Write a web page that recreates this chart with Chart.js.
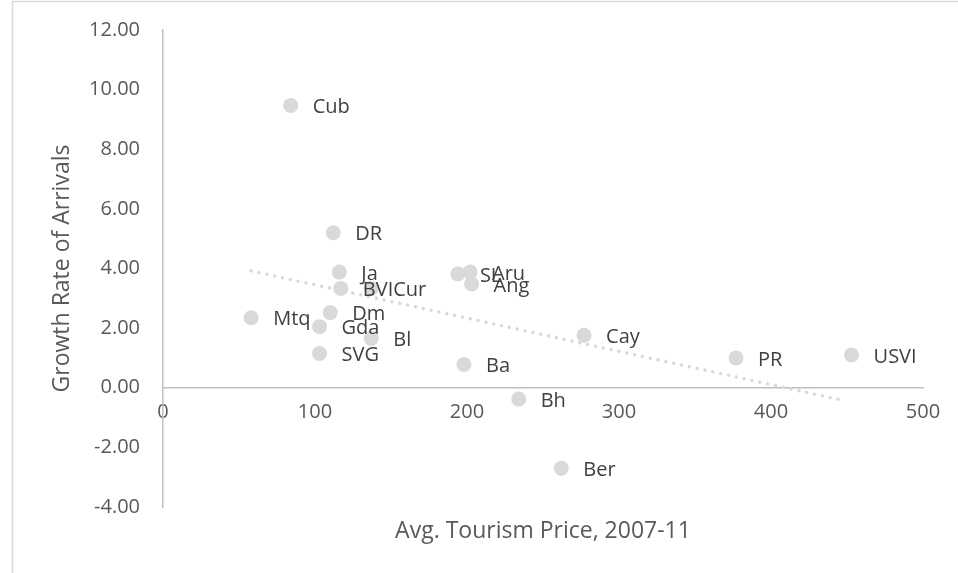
<!DOCTYPE html>
<html>
<head>
<meta charset="utf-8">
<script src="https://cdn.jsdelivr.net/npm/chart.js@4.4.1/dist/chart.umd.min.js"></script>
<style>
  html, body { margin: 0; padding: 0; background: #fff; }
  canvas { display: block; }
</style>
</head>
<body>
<canvas id="chart" width="958" height="573"></canvas>
<script>
// Island destinations: average tourism price vs growth rate of arrivals
const islands = ["Cub", "DR", "Ja", "BVI", "Cur", "Mtq", "Dm", "Gda", "Bl", "SVG",
                 "Ba", "SL", "Aru", "Ang", "Cay", "PR", "USVI", "Bh", "Ber"];
const price  = [84, 112, 116, 117, 137, 58, 110, 103, 137, 103,
                198, 194, 202, 203, 277, 377, 453, 234, 262];
const growth = [9.47, 5.20, 3.88, 3.33, 3.33, 2.35, 2.52, 2.05, 1.65, 1.15,
                0.78, 3.82, 3.88, 3.48, 1.76, 1.00, 1.10, -0.38, -2.70];

// linear trendline end points
const trendPrice  = [58, 449];
const trendGrowth = [3.92, -0.44];

const xMin = 0, xMax = 500, xStep = 100;
const yMin = -4, yMax = 12, yStep = 2;

const FONT = "'Open Sans', 'DejaVu Sans', sans-serif";
const TICK_COLOR = "#595959";
const LABEL_COLOR = "#404040";
const AXIS_COLOR = "#bfbfbf";
const MARK_COLOR = "#d9d9d9";

// thin outer frame (left and top edges show)
const frame = {
  id: "frame",
  beforeDraw(chart) {
    const ctx = chart.ctx;
    ctx.save();
    ctx.strokeStyle = "#d9d9d9";
    ctx.lineWidth = 1.5;
    ctx.beginPath();
    ctx.moveTo(12.5, chart.height);
    ctx.lineTo(12.5, 1.5);
    ctx.lineTo(chart.width, 1.5);
    ctx.stroke();
    ctx.restore();
  }
};

// name beside each point
const pointNames = {
  id: "pointNames",
  afterDatasetsDraw(chart) {
    const ctx = chart.ctx;
    const meta = chart.getDatasetMeta(0);
    ctx.save();
    ctx.font = "20px " + FONT;
    ctx.fillStyle = LABEL_COLOR;
    ctx.textAlign = "left";
    ctx.textBaseline = "middle";
    meta.data.forEach((pt, i) => {
      ctx.fillText(islands[i], pt.x + 22, pt.y + 2);
    });
    ctx.restore();
  }
};

// axis titles centred on the plot area
const axisTitles = {
  id: "axisTitles",
  afterDraw(chart) {
    const ctx = chart.ctx;
    const a = chart.chartArea;
    ctx.save();
    ctx.font = "23px " + FONT;
    ctx.fillStyle = TICK_COLOR;
    ctx.textAlign = "center";
    ctx.textBaseline = "middle";
    ctx.fillText("Avg. Tourism Price, 2007-11", (a.left + a.right) / 2, 531);
    ctx.translate(62, (a.top + a.bottom) / 2);
    ctx.rotate(-Math.PI / 2);
    ctx.fillText("Growth Rate of Arrivals", 0, 0);
    ctx.restore();
  }
};

new Chart(document.getElementById("chart"), {
  type: "scatter",
  data: {
    datasets: [
      {
        data: price.map((p, i) => ({ x: p, y: growth[i] })),
        backgroundColor: MARK_COLOR,
        borderWidth: 0,
        pointRadius: 7.5,
        pointHoverRadius: 7.5
      },
      {
        type: "line",
        data: trendPrice.map((p, i) => ({ x: p, y: trendGrowth[i] })),
        borderColor: MARK_COLOR,
        borderWidth: 3.5,
        borderDash: [0.01, 8],
        borderCapStyle: "round",
        pointRadius: 0,
        fill: false
      }
    ]
  },
  options: {
    responsive: false,
    animation: false,
    layout: { padding: { left: 0, top: 30, right: 35, bottom: 66 } },
    plugins: {
      legend: { display: false },
      tooltip: { enabled: false }
    },
    scales: {
      x: {
        type: "linear",
        position: { y: 0 },
        min: xMin,
        max: xMax,
        grid: { display: false, drawTicks: false },
        border: { color: AXIS_COLOR, width: 1.5 },
        ticks: {
          stepSize: xStep,
          padding: 13,
          color: TICK_COLOR,
          font: { family: FONT, size: 20 }
        }
      },
      y: {
        type: "linear",
        position: "left",
        min: yMin,
        max: yMax,
        // fixed gutter; the layout padding alone sets the plot's top and bottom
        afterFit(scale) {
          scale.width = 163;
          scale.paddingTop = 0;
          scale.paddingBottom = 0;
        },
        grid: { display: false, drawTicks: false },
        border: { color: AXIS_COLOR, width: 1.5 },
        ticks: {
          stepSize: yStep,
          padding: 23,
          color: TICK_COLOR,
          font: { family: FONT, size: 20 },
          callback: v => v.toFixed(2)
        }
      }
    }
  },
  plugins: [frame, pointNames, axisTitles]
});
</script>
</body>
</html>
